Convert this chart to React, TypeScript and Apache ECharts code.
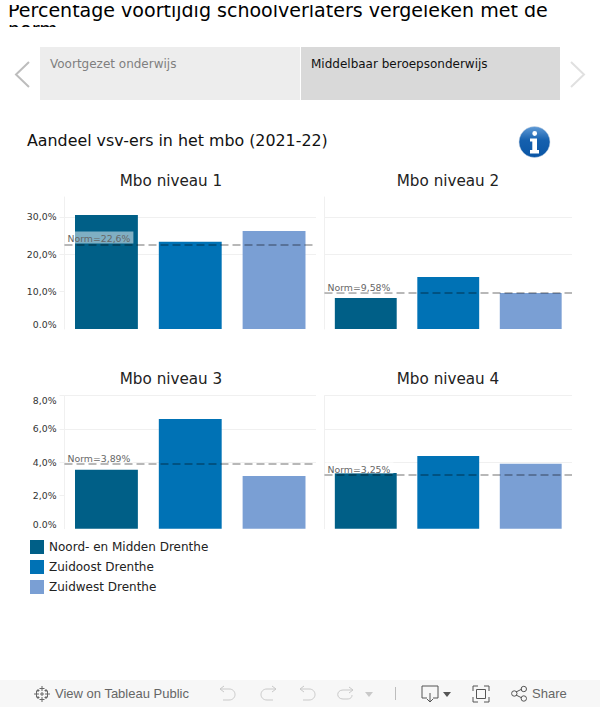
import React, { useEffect, useRef } from "react";
import * as echarts from "echarts";

const levels = ["Mbo niveau 1", "Mbo niveau 2", "Mbo niveau 3", "Mbo niveau 4"];
const regions = ["Noord- en Midden Drenthe", "Zuidoost Drenthe", "Zuidwest Drenthe"];
const noordMidden = [30.5, 8.3, 3.54, 3.35];
const zuidoost = [23.3, 13.9, 6.6, 4.38];
const zuidwest = [26.2, 9.6, 3.17, 3.9];
const norms = [22.6, 9.58, 3.89, 3.25];
const normLabels = ["Norm=22,6%", "Norm=9,58%", "Norm=3,89%", "Norm=3,25%"];
const tabLabels = ["Voortgezet onderwijs", "Middelbaar beroepsonderwijs"];
const topTicks = [0, 10, 20, 30];
const topTickLabels = ["0.0%", "10,0%", "20,0%", "30,0%"];
const bottomTicks = [0, 2, 4, 6, 8];
const bottomTickLabels = ["0.0%", "2,0%", "4,0%", "6,0%", "8,0%"];
const regionColors = ["#005F87", "#0072B5", "#7A9FD4"];

const FONT = '"DejaVu Sans"';
const FOOT = '"Liberation Sans"';

const icons: Record<string, string> = {
  undoA: "M4 1 L0 4 L4 7 M0 4 L9 4 C17 4 17 15 9 15 L3 15",
  redoA: "M13 1 L17 4 L13 7 M17 4 L8 4 C0 4 0 15 8 15 L14 15",
  loop: "M13 1 L17 4 L13 7 M17 4 L7 4 C0 4 0 13 7 13 L11 13 C15 13 16 11 16 9",
  dl: "M5 12 L0 12 L0 0 L16 0 L16 12 L11 12 M8 7 L8 16 M5 13 L8 16 L11 13",
  full: "M0 5 L0 0 L5 0 M11 0 L16 0 L16 5 M16 11 L16 16 L11 16 M5 16 L0 16 L0 11 M3.5 3.5 L12.5 3.5 L12.5 12.5 L3.5 12.5 Z",
  share: "M5 6 L11 3 M5 9 L11 12 M6 7.5 A2.7 2.7 0 1 1 0.6 7.5 A2.7 2.7 0 1 1 6 7.5 M15.5 3 A2.7 2.7 0 1 1 10.1 3 A2.7 2.7 0 1 1 15.5 3 M15.5 12.5 A2.7 2.7 0 1 1 10.1 12.5 A2.7 2.7 0 1 1 15.5 12.5",
  logo: "M8 0 V5 M5.5 2.5 H10.5 M8 11 V16 M5.5 13.5 H10.5 M2.5 5 V11 M0 8 H5 M13.5 5 V11 M11 8 H16 M4 3 V6 M2.5 4.5 H5.5 M12 3 V6 M10.5 4.5 H13.5 M4 10 V13 M2.5 11.5 H5.5 M12 10 V13 M10.5 11.5 H13.5 M8 6 V10 M6 8 H10",
  glyph: "M-2.2 -9.5 A2.4 2.4 0 1 1 2.6 -9.5 A2.4 2.4 0 1 1 -2.2 -9.5 Z M-4.5 -4.5 L2.5 -4.5 L2.5 7 L4.5 7 L4.5 10.5 L-4.5 10.5 L-4.5 7 L-2.2 7 L-2.2 -1.5 L-4.5 -1.5 Z",
};
Object.keys(icons).forEach((k) => {
  echarts.graphic.registerShape("ic_" + k, (echarts.graphic as any).extendPath(icons[k], {}));
});

const panels = [
  { left: 64.5, width: 251.5, top: 197, height: 132, max: 35.3, interval: 10, ticks: topTicks, labels: topTickLabels, showLabels: true, cx: 171, ty: 180 },
  { left: 324.5, width: 247.5, top: 197, height: 132, max: 35.3, interval: 10, ticks: topTicks, labels: topTickLabels, showLabels: false, cx: 448, ty: 180 },
  { left: 64.5, width: 251.5, top: 395.7, height: 133, max: 8, interval: 2, ticks: bottomTicks, labels: bottomTickLabels, showLabels: true, cx: 171, ty: 378.5 },
  { left: 324.5, width: 247.5, top: 395.7, height: 133, max: 8, interval: 2, ticks: bottomTicks, labels: bottomTickLabels, showLabels: false, cx: 448, ty: 378.5 },
];

const icon = (k: string, x: number, y: number, stroke = "#c9c9c9", lineWidth = 1) => ({
  type: "ic_" + k,
  x,
  y,
  z: 10,
  silent: true,
  style: { fill: "none", stroke, lineWidth },
});

function buildOption() {
  const valueSets = [noordMidden, zuidoost, zuidwest];
  const series: any[] = [];
  panels.forEach((p, pi) => {
    valueSets.forEach((vals, ri) => {
      const s: any = {
        name: regions[ri],
        type: "bar",
        xAxisIndex: pi,
        yAxisIndex: pi,
        barWidth: "25%",
        barGap: "33.3%",
        itemStyle: { color: regionColors[ri] },
        silent: true,
        data: [vals[pi]],
      };
      if (ri === 2) {
        s.markLine = {
          silent: true,
          symbol: "none",
          animation: false,
          lineStyle: { color: "rgba(0,0,0,0.28)", type: [8, 4], width: 2 },
          label: {
            show: true,
            position: "insideStartTop",
            distance: 1,
            formatter: normLabels[pi],
            fontFamily: FONT,
            fontSize: 9.33,
            color: "#666666",
            backgroundColor: "rgba(255,255,255,0.5)",
            padding: [3, 3, 0, 2],
          },
          data: [{ yAxis: norms[pi] }],
        };
      }
      series.push(s);
    });
  });

  return {
    animation: false,
    backgroundColor: "#ffffff",
    title: [
      { text: "Aandeel vsv-ers in het mbo (2021-22)", left: 27, top: 132, padding: 0, textStyle: { fontFamily: FONT, fontSize: 15.85, fontWeight: "normal", color: "#111111" } },
      ...panels.map((p, i) => ({
        text: levels[i],
        left: p.cx,
        top: p.ty - 7,
        padding: 0,
        textAlign: "center",
        textStyle: { fontFamily: FONT, fontSize: 15.2, fontWeight: "normal", color: "#222222" },
      })),
    ],
    legend: {
      orient: "vertical",
      left: 30,
      top: 540,
      padding: 0,
      itemWidth: 14,
      itemHeight: 14,
      itemGap: 6,
      icon: "rect",
      selectedMode: false,
      data: regions,
      textStyle: { fontFamily: FONT, fontSize: 12, color: "#222222" },
    },
    grid: panels.map((p) => ({ left: p.left, width: p.width, top: p.top, height: p.height, containLabel: false })),
    xAxis: panels.map((p, i) => ({
      type: "category",
      gridIndex: i,
      data: [levels[i]],
      axisLine: { show: false },
      axisTick: { show: false },
      axisLabel: { show: false },
      splitLine: { show: false },
    })),
    yAxis: panels.map((p, i) => ({
      type: "value",
      gridIndex: i,
      min: 0,
      max: p.max,
      interval: p.interval,
      axisLine: { show: true, lineStyle: { color: "#f0f0f0", width: 1 } },
      axisTick: { show: p.showLabels, length: 5, lineStyle: { color: "#f0f0f0" }, customValues: p.ticks.slice(1) },
      splitLine: { show: true, showMinLine: false, lineStyle: { color: "#f0f0f0", width: 1 } },
      axisLabel: {
        show: p.showLabels,
        margin: 8,
        fontFamily: FONT,
        fontSize: 9.33,
        color: "#333333",
        verticalAlignMinLabel: "bottom",
        verticalAlignMaxLabel: "top",
        formatter: (v: number) => {
          const k = p.ticks.indexOf(v);
          return k >= 0 ? p.labels[k] : "";
        },
      },
    })),
    series,
    graphic: {
      elements: [
        { type: "text", x: 8, y: 0, z: 1, silent: true, style: { text: "Percentage voortijdig schoolverlaters vergeleken met de\nnorm", font: `19.05px ${FONT}`, lineHeight: 19.5, fill: "#000000" } },
        { type: "rect", z: 2, silent: true, shape: { x: 0, y: 0, width: 600, height: 5 }, style: { fill: "#ffffff" } },
        { type: "rect", z: 2, silent: true, shape: { x: 0, y: 27, width: 600, height: 20 }, style: { fill: "#ffffff" } },

        { type: "rect", z: 3, silent: true, shape: { x: 40, y: 47, width: 260, height: 53 }, style: { fill: "#ededed" } },
        { type: "rect", z: 3, silent: true, shape: { x: 301, y: 47, width: 259, height: 53 }, style: { fill: "#d9d9d9" } },
        { type: "text", x: 50, y: 58, z: 4, silent: true, style: { text: tabLabels[0], font: `12px ${FONT}`, fill: "#7f7f7f" } },
        { type: "text", x: 311, y: 58, z: 4, silent: true, style: { text: tabLabels[1], font: `12px ${FONT}`, fill: "#111111" } },
        { type: "polyline", z: 4, silent: true, shape: { points: [[29, 62], [16, 74.5], [29, 87]] }, style: { fill: "none", stroke: "#bdbdbd", lineWidth: 2 } },
        { type: "polyline", z: 4, silent: true, shape: { points: [[571, 62], [584, 74.5], [571, 87]] }, style: { fill: "none", stroke: "#e0e0e0", lineWidth: 2 } },

        {
          type: "circle",
          z: 4,
          silent: true,
          shape: { cx: 534.5, cy: 142, r: 15.5 },
          style: {
            fill: new echarts.graphic.LinearGradient(0, 0, 0, 1, [
              { offset: 0, color: "#5f9ad6" },
              { offset: 0.45, color: "#1560ae" },
              { offset: 1, color: "#0a55a5" },
            ]),
            stroke: "#c8d4e2",
            lineWidth: 0.5,
          },
        },
        { type: "ic_glyph", x: 534.5, y: 143, z: 5, silent: true, style: { fill: "#ffffff" } },

        { type: "rect", z: 3, silent: true, shape: { x: 0, y: 680, width: 600, height: 27 }, style: { fill: "#f7f7f7" } },
        icon("logo", 34, 686, "#666666", 1),
        { type: "text", x: 55, y: 687, z: 10, silent: true, style: { text: "View on Tableau Public", font: `13px ${FOOT}`, fill: "#666666" } },
        icon("undoA", 220, 685),
        icon("redoA", 259, 685),
        icon("undoA", 300, 685),
        icon("loop", 336, 686),
        { type: "polygon", z: 10, silent: true, shape: { points: [[365, 692], [373, 692], [369, 697]] }, style: { fill: "#c9c9c9" } },
        { type: "line", z: 10, silent: true, shape: { x1: 395.5, y1: 687, x2: 395.5, y2: 700 }, style: { stroke: "#bdbdbd", lineWidth: 1 } },
        icon("dl", 422, 686, "#555555"),
        { type: "polygon", z: 10, silent: true, shape: { points: [[443, 692], [451, 692], [447, 697]] }, style: { fill: "#555555" } },
        icon("full", 473, 686, "#555555"),
        icon("share", 511, 686, "#555555"),
        { type: "text", x: 532, y: 687, z: 10, silent: true, style: { text: "Share", font: `13px ${FOOT}`, fill: "#666666" } },
      ],
    },
  };
}

export default function App() {
  const ref = useRef<HTMLDivElement>(null);
  useEffect(() => {
    document.body.style.margin = "0";
    const chart = echarts.init(ref.current!, undefined, { renderer: "svg" });
    chart.setOption(buildOption() as any);
    return () => chart.dispose();
  }, []);
  return <div ref={ref} style={{ width: 600, height: 707 }} />;
}
